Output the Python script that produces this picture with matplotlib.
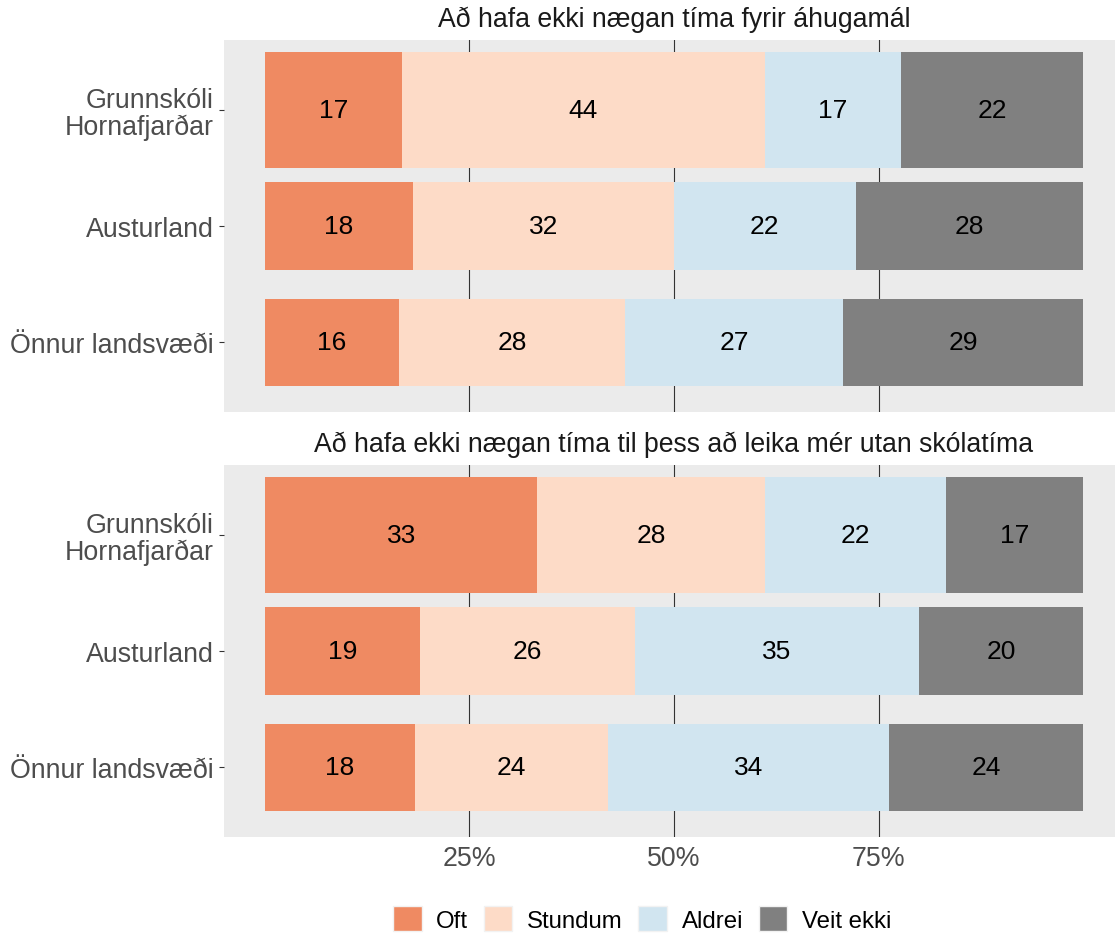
import numpy as np
import matplotlib
matplotlib.use('Agg')
import matplotlib.pyplot as plt
from matplotlib.patches import Patch

plt.rcParams['font.family'] = ['Liberation Sans', 'DejaVu Sans']

# gögn
titles = ['Að hafa ekki nægan tíma fyrir áhugamál',
          'Að hafa ekki nægan tíma til þess að leika mér utan skólatíma']
groups = ['Grunnskóli\nHornafjarðar', 'Austurland', 'Önnur landsvæði']
answers = ['Oft', 'Stundum', 'Aldrei', 'Veit ekki']
colors = ['#EF8A62', '#FDDBC7', '#D1E5F0', '#808080']

# hlutföll (%) - röð: Oft, Stundum, Aldrei, Veit ekki
p1_grunn = [16.7, 44.4, 16.7, 22.2]
p1_aust = [18.1, 31.9, 22.2, 27.8]
p1_onnur = [16.4, 27.6, 26.7, 29.3]
p2_grunn = [33.3, 27.8, 22.2, 16.7]
p2_aust = [18.9, 26.3, 34.8, 20.0]
p2_onnur = [18.3, 23.6, 34.4, 23.7]
bar_heights = [1.0, 0.75, 0.75]

panels = [np.array([p1_grunn, p1_aust, p1_onnur]),
          np.array([p2_grunn, p2_aust, p2_onnur])]

W, H = 1115, 937
fig = plt.figure(figsize=(W / 100, H / 100), dpi=100)

left = 224 / W
width = 900 / W
ph = 372 / H
bottoms = [(H - 413) / H, (H - 838) / H]

ypos = np.arange(1, len(groups) + 1)

for k, vals in enumerate(panels):
    ax = fig.add_axes([left, bottoms[k], width, ph])
    ax.set_facecolor('#EBEBEB')
    for s in ax.spines.values():
        s.set_visible(False)
    ax.set_xlim(-5, 105)
    ax.set_ylim(3.6, 0.4)
    for gx in [25, 50, 75]:
        ax.axvline(gx, color='#333333', lw=0.8, zorder=1)

    start = np.zeros(len(groups))
    for j, ans in enumerate(answers):
        ax.barh(ypos, vals[:, j], left=start, height=bar_heights,
                color=colors[j], zorder=2, linewidth=0)
        for i in range(len(groups)):
            ax.text(start[i] + vals[i, j] / 2, ypos[i], f'{vals[i, j]:.0f}',
                    ha='center', va='center', fontsize=19, color='black', zorder=3)
        start += vals[:, j]

    ax.set_yticks(ypos)
    ax.set_yticklabels(groups, fontsize=19.3, color='#4D4D4D', linespacing=1.05)
    ax.tick_params(axis='y', length=3.5, width=0.8, color='#333333', pad=4)
    if k == 1:
        ax.set_xticks([25, 50, 75])
        ax.set_xticklabels(['25%', '50%', '75%'], fontsize=19.3, color='#4D4D4D')
        ax.tick_params(axis='x', length=0, pad=6)
    else:
        ax.set_xticks([])
    ax.text(0.5, 1 + 21 / 372, titles[k], transform=ax.transAxes,
            ha='center', va='center', fontsize=19.2, color='#1A1A1A')

handles = [Patch(facecolor=c, edgecolor='#F2F2F2', label=a) for a, c in zip(answers, colors)]
fig.legend(handles=handles, loc='center', bbox_to_anchor=(642 / W, 1 - 920 / H),
           ncol=4, frameon=False, fontsize=17.3, handlelength=1.2, handleheight=1.2,
           handletextpad=0.6, columnspacing=0.65)

fig.savefig('out.png', dpi=100)
